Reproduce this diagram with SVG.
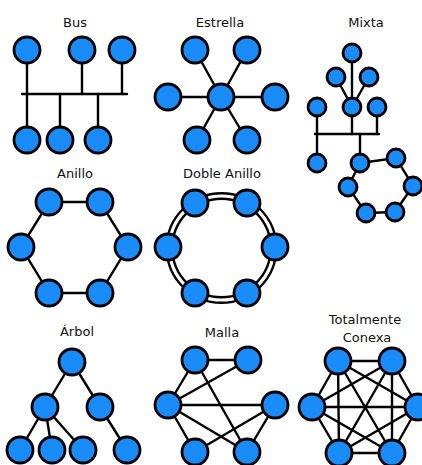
<svg xmlns="http://www.w3.org/2000/svg" width="422" height="465" viewBox="0 0 422 465">
<style>
.bg{fill:#ffffff}
.t{font-family:"DejaVu Sans","Liberation Sans",sans-serif;font-size:13px;fill:#111;text-anchor:middle}
.n circle{fill:#1a8cfa;stroke:#000;stroke-width:2.8}
.e line,.e polyline,.e polygon{stroke:#000;stroke-width:2.4;fill:none;stroke-linecap:round}
.e .dbl1{stroke:#000;stroke-width:8;fill:none}
.e .dbl2{stroke:#fff;stroke-width:3.2;fill:none}
</style>
<rect class="bg" width="422" height="465"/>
<g id="titles">
<text class="t" x="75" y="27">Bus</text>
<text class="t" x="220" y="27">Estrella</text>
<text class="t" x="366" y="27">Mixta</text>
<text class="t" x="75" y="178">Anillo</text>
<text class="t" x="222" y="178">Doble Anillo</text>
<text class="t" x="77" y="336">Árbol</text>
<text class="t" x="222" y="337">Malla</text>
<text class="t" x="365" y="324">Totalmente</text>
<text class="t" x="367" y="342">Conexa</text>
</g>
<g id="connectors" class="e">
<!-- Bus -->
<line x1="22" y1="94" x2="127" y2="94"/>
<line x1="27" y1="50" x2="27" y2="140"/>
<line x1="82" y1="50" x2="82" y2="94"/>
<line x1="122" y1="50" x2="122" y2="94"/>
<line x1="60" y1="94" x2="60" y2="140"/>
<line x1="98" y1="94" x2="98" y2="140"/>
<!-- Estrella -->
<line x1="221" y1="97" x2="195" y2="50"/>
<line x1="221" y1="97" x2="247" y2="50"/>
<line x1="221" y1="97" x2="168" y2="97"/>
<line x1="221" y1="97" x2="275" y2="97"/>
<line x1="221" y1="97" x2="197" y2="140"/>
<line x1="221" y1="97" x2="247" y2="140"/>
<!-- Mixta -->
<line x1="352" y1="53" x2="352" y2="107"/>
<line x1="336" y1="77" x2="352" y2="107"/>
<line x1="369" y1="77" x2="352" y2="107"/>
<line x1="315" y1="134" x2="379" y2="134"/>
<line x1="317" y1="107" x2="317" y2="163"/>
<line x1="352" y1="107" x2="352" y2="134"/>
<line x1="377" y1="107" x2="377" y2="134"/>
<line x1="360" y1="134" x2="360" y2="163"/>
<polygon points="360,163 396,158 413,186 395,212 366,213 348,187"/>
<!-- Anillo -->
<polygon points="49,202 100,202 128,247 100,293 49,293 21,247"/>
<!-- Doble anillo -->
<circle class="dbl1" cx="221.5" cy="248" r="52"/>
<circle class="dbl2" cx="221.5" cy="248" r="52"/>
<!-- Arbol -->
<line x1="72" y1="362" x2="45" y2="407"/>
<line x1="72" y1="362" x2="100" y2="407"/>
<line x1="45" y1="407" x2="20" y2="450"/>
<line x1="45" y1="407" x2="52" y2="450"/>
<line x1="45" y1="407" x2="83" y2="450"/>
<line x1="100" y1="407" x2="127" y2="450"/>
<!-- Malla -->
<line x1="195" y1="360" x2="248" y2="360"/>
<line x1="195" y1="360" x2="168" y2="405"/>
<line x1="248" y1="360" x2="168" y2="405"/>
<line x1="168" y1="405" x2="275" y2="405"/>
<line x1="168" y1="405" x2="195" y2="452"/>
<line x1="168" y1="405" x2="247" y2="452"/>
<line x1="195" y1="360" x2="247" y2="452"/>
<line x1="275" y1="405" x2="195" y2="452"/>
<line x1="275" y1="405" x2="247" y2="452"/>
<!-- Totalmente conexa -->
<line x1="338" y1="361" x2="392" y2="361"/>
<line x1="338" y1="361" x2="418" y2="407"/>
<line x1="338" y1="361" x2="392" y2="453"/>
<line x1="338" y1="361" x2="339" y2="453"/>
<line x1="338" y1="361" x2="312" y2="407"/>
<line x1="392" y1="361" x2="418" y2="407"/>
<line x1="392" y1="361" x2="392" y2="453"/>
<line x1="392" y1="361" x2="339" y2="453"/>
<line x1="392" y1="361" x2="312" y2="407"/>
<line x1="418" y1="407" x2="392" y2="453"/>
<line x1="418" y1="407" x2="339" y2="453"/>
<line x1="418" y1="407" x2="312" y2="407"/>
<line x1="392" y1="453" x2="339" y2="453"/>
<line x1="392" y1="453" x2="312" y2="407"/>
<line x1="339" y1="453" x2="312" y2="407"/>
</g>
<g id="bus" class="n">
<circle cx="27" cy="50" r="13"/><circle cx="82" cy="50" r="13"/><circle cx="122" cy="50" r="13"/>
<circle cx="27" cy="140" r="13"/><circle cx="60" cy="140" r="13"/><circle cx="98" cy="140" r="13"/>
</g>
<g id="estrella" class="n">
<circle cx="221" cy="97" r="13"/>
<circle cx="195" cy="50" r="13"/><circle cx="247" cy="50" r="13"/>
<circle cx="168" cy="97" r="13"/><circle cx="275" cy="97" r="13"/>
<circle cx="197" cy="140" r="13"/><circle cx="247" cy="140" r="13"/>
</g>
<g id="mixta" class="n">
<circle cx="352" cy="53" r="9"/>
<circle cx="336" cy="77" r="9"/><circle cx="369" cy="77" r="9"/>
<circle cx="317" cy="107" r="9"/><circle cx="352" cy="107" r="9"/><circle cx="377" cy="107" r="9"/>
<circle cx="317" cy="163" r="9"/>
<circle cx="360" cy="163" r="9"/><circle cx="396" cy="158" r="9"/><circle cx="413" cy="186" r="9"/>
<circle cx="395" cy="212" r="9"/><circle cx="366" cy="213" r="9"/><circle cx="348" cy="187" r="9"/>
</g>
<g id="anillo" class="n">
<circle cx="49" cy="202" r="13"/><circle cx="100" cy="202" r="13"/><circle cx="128" cy="247" r="13"/>
<circle cx="100" cy="293" r="13"/><circle cx="49" cy="293" r="13"/><circle cx="21" cy="247" r="13"/>
</g>
<g id="doble-anillo" class="n">
<circle cx="195" cy="203" r="13"/><circle cx="247" cy="203" r="13"/><circle cx="275" cy="247" r="13"/>
<circle cx="247" cy="293" r="13"/><circle cx="195" cy="293" r="13"/><circle cx="168" cy="247" r="13"/>
</g>
<g id="arbol" class="n">
<circle cx="72" cy="362" r="13"/>
<circle cx="45" cy="407" r="13"/><circle cx="100" cy="407" r="13"/>
<circle cx="20" cy="450" r="13"/><circle cx="52" cy="450" r="13"/><circle cx="83" cy="450" r="13"/><circle cx="127" cy="450" r="13"/>
</g>
<g id="malla" class="n">
<circle cx="195" cy="360" r="13"/><circle cx="248" cy="360" r="13"/>
<circle cx="168" cy="405" r="13"/><circle cx="275" cy="405" r="13"/>
<circle cx="195" cy="452" r="13"/><circle cx="247" cy="452" r="13"/>
</g>
<g id="conexa" class="n">
<circle cx="338" cy="361" r="13"/><circle cx="392" cy="361" r="13"/>
<circle cx="312" cy="407" r="13"/><circle cx="418" cy="407" r="13"/>
<circle cx="339" cy="453" r="13"/><circle cx="392" cy="453" r="13"/>
</g>
</svg>
